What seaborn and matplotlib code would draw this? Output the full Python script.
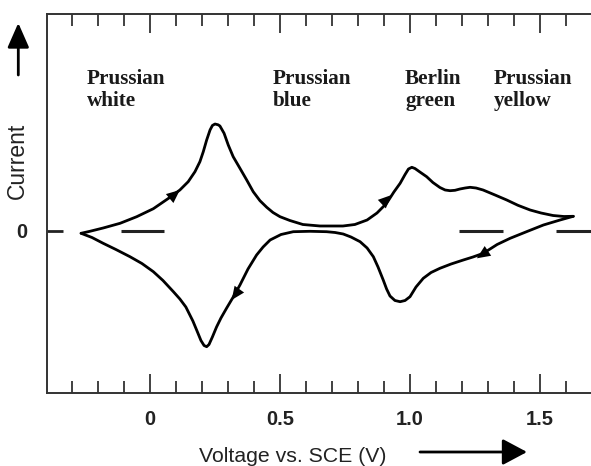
import matplotlib
matplotlib.use('Agg')
import matplotlib.pyplot as plt
from matplotlib.ticker import MultipleLocator
import seaborn as sns

# anodic (forward) sweep, V vs. SCE and current (arb. units)
fwd_v = [-0.265, -0.231, -0.180, -0.115, -0.051, 0.013, 0.077, 0.115, 0.147, 0.173,
         0.192, 0.205, 0.218, 0.231, 0.240, 0.250, 0.262, 0.269, 0.285, 0.301,
         0.320, 0.346, 0.372, 0.397, 0.423, 0.449, 0.473, 0.500, 0.538, 0.588,
         0.654, 0.742, 0.788, 0.835, 0.873, 0.910, 0.938, 0.962, 0.981, 0.994,
         1.007, 1.019, 1.038, 1.064, 1.088, 1.115, 1.135, 1.154, 1.173, 1.192,
         1.212, 1.231, 1.254, 1.281, 1.327, 1.372, 1.415, 1.462, 1.504, 1.550,
         1.592, 1.628]
fwd_i = [-0.026, -0.006, 0.027, 0.074, 0.140, 0.220, 0.334, 0.407, 0.490, 0.590,
         0.690, 0.790, 0.907, 1.007, 1.052, 1.067, 1.059, 1.047, 0.974, 0.857,
         0.740, 0.624, 0.507, 0.390, 0.300, 0.234, 0.182, 0.140, 0.102, 0.062,
         0.047, 0.047, 0.062, 0.107, 0.177, 0.274, 0.387, 0.474, 0.562, 0.617,
         0.634, 0.622, 0.587, 0.540, 0.482, 0.432, 0.407, 0.400, 0.404, 0.417,
         0.427, 0.434, 0.427, 0.407, 0.357, 0.307, 0.254, 0.207, 0.177, 0.152,
         0.142, 0.144]

# cathodic (reverse) sweep
rev_v = [1.628, 1.577, 1.513, 1.450, 1.385, 1.335, 1.282, 1.242, 1.205, 1.158,
         1.115, 1.081, 1.051, 1.023, 1.000, 0.981, 0.962, 0.942, 0.923, 0.910,
         0.897, 0.877, 0.859, 0.835, 0.808, 0.773, 0.743, 0.712, 0.679, 0.615,
         0.551, 0.504, 0.462, 0.435, 0.410, 0.377, 0.346, 0.319, 0.295, 0.273,
         0.256, 0.240, 0.227, 0.218, 0.208, 0.196, 0.181, 0.165, 0.138, 0.115,
         0.090, 0.050, 0.013, -0.031, -0.077, -0.131, -0.180, -0.223, -0.265]
rev_i = [0.144, 0.107, 0.057, -0.008, -0.076, -0.138, -0.226, -0.263, -0.293, -0.333,
         -0.376, -0.418, -0.476, -0.563, -0.660, -0.698, -0.710, -0.698, -0.653, -0.583,
         -0.493, -0.363, -0.260, -0.173, -0.110, -0.063, -0.033, -0.018, -0.010, -0.006,
         -0.010, -0.038, -0.093, -0.163, -0.243, -0.383, -0.543, -0.668, -0.773, -0.873,
         -0.963, -1.063, -1.138, -1.160, -1.148, -1.098, -1.003, -0.903, -0.763, -0.683,
         -0.610, -0.498, -0.410, -0.328, -0.260, -0.188, -0.126, -0.068, -0.026]

# direction arrows on the curve: (tail_v, tail_i, tip_v, tip_i)
curve_arrows = [(0.069, 0.307, 0.115, 0.407),
                (0.888, 0.257, 0.929, 0.357),
                (1.295, -0.21, 1.257, -0.276),
                (0.346, -0.576, 0.314, -0.693)]

# pieces of the zero-current line
zero_starts = [-0.112, 1.188, 1.562]
zero_ends = [0.054, 1.358, 1.70]

phases = ["Prussian\nwhite", "Prussian\nblue", "Berlin\ngreen", "Prussian\nyellow"]
phase_x = [-0.243, 0.473, 0.981, 1.323]

x_ticks = [0, 0.5, 1.0, 1.5]
x_labels = ["0", "0.5", "1.0", "1.5"]

sns.set_theme(style="ticks")
plt.rcParams['font.family'] = ['Liberation Sans', 'DejaVu Sans']

W, H = 591, 466
fig = plt.figure(figsize=(W / 100, H / 100), dpi=100)
ax = fig.add_axes([47 / W, (H - 393.3) / H, (W - 47) / W, (393.3 - 14) / H])

sns.lineplot(x=fwd_v, y=fwd_i, sort=False, estimator=None, color='black', lw=2, ax=ax)
sns.lineplot(x=rev_v, y=rev_i, sort=False, estimator=None, color='black', lw=2, ax=ax)
ax.hlines([0] * len(zero_starts), zero_starts, zero_ends, color='#222222', lw=2.2)

for tv, ti, hv, hi in curve_arrows:
    ax.annotate('', xy=(hv, hi), xytext=(tv, ti),
                arrowprops=dict(arrowstyle='-|>,head_length=0.8,head_width=0.35',
                                mutation_scale=12, color='black', lw=0,
                                shrinkA=0, shrinkB=0))

for txt, xv in zip(phases, phase_x):
    ax.text(xv, 1.615, txt, ha='left', va='top', fontsize=15.2,
            family='Liberation Serif', fontweight='bold', color='#1a1a1a',
            linespacing=1.1)

ax.set_xlim(-0.396, 1.696)
ax.set_ylim(-1.626, 2.167)

ax.set_xticks(x_ticks)
ax.set_xticklabels(x_labels, fontsize=14.5, fontweight='bold', color='#222222')
ax.xaxis.set_minor_locator(MultipleLocator(0.1))
ax.tick_params(axis='x', which='major', direction='in', length=14, width=1.3,
               top=True, bottom=True, pad=12, colors='#333333', labelcolor='#222222')
ax.tick_params(axis='x', which='minor', direction='in', length=8.5, width=1.3,
               top=True, bottom=True, colors='#333333')

ax.set_yticks([0])
ax.set_yticklabels(["0"], fontsize=14.5, fontweight='bold', color='#222222')
ax.tick_params(axis='y', direction='in', length=11.5, width=2, pad=14, colors='#222222',
               labelcolor='#222222')

for side in ['top', 'bottom', 'left']:
    ax.spines[side].set_linewidth(1.4)
    ax.spines[side].set_color('#333333')
ax.spines['right'].set_visible(False)

fig.text(17.5 / W, 1 - 161 / H, "Current", rotation=90, ha='center', va='center',
         fontsize=16.5, color='#222222')
fig.text(292.5 / W, 1 - 457 / H, "Voltage vs. SCE (V)", ha='center', va='center',
         fontsize=15.3, color='#222222')

ax.annotate('', xy=(18.3 / W, 1 - 23 / H), xytext=(18.3 / W, 1 - 75 / H),
            xycoords='figure fraction', textcoords='figure fraction',
            arrowprops=dict(arrowstyle='-|>,head_length=0.75,head_width=0.33',
                            mutation_scale=20, color='black', lw=2,
                            shrinkA=0, shrinkB=0), annotation_clip=False)
ax.annotate('', xy=(527 / W, 1 - 452 / H), xytext=(420 / W, 1 - 452 / H),
            xycoords='figure fraction', textcoords='figure fraction',
            arrowprops=dict(arrowstyle='-|>,head_length=0.75,head_width=0.4',
                            mutation_scale=20, color='black', lw=2,
                            shrinkA=0, shrinkB=0), annotation_clip=False)

fig.savefig("out.png", dpi=100, facecolor='white')
plt.close(fig)
